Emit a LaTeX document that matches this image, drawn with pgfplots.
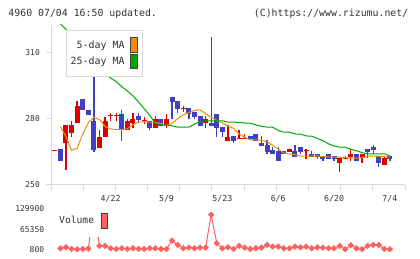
\documentclass[border=0pt]{standalone}
\usepackage{pgfplots}
\pgfplotsset{compat=1.18}
\usepackage{pgfplotstable}
\usepackage{fontspec}
\setmainfont{DejaVu Sans Mono}
\definecolor{cred}{RGB}{221,0,0}
\definecolor{cblue}{RGB}{64,64,192}
\definecolor{corange}{RGB}{245,140,0}
\definecolor{cgreen}{RGB}{0,168,0}
\definecolor{cvol}{RGB}{255,96,96}
\definecolor{caxis}{RGB}{216,216,216}
\definecolor{ctext}{RGB}{51,51,51}

% red (up) candle bodies: index open close
\pgfplotstableread{
i o c
0 265.1 265.55
2 268.8 277.1
3 273.65 277.1
4 277.9 285.8
8 266.8 271.4
9 271.8 279.0
10 281.0 281.45
11 281.0 281.45
13 274.6 279.1
14 278.2 279.7
16 278.75 279.2
18 275.9 279.9
20 276.7 279.9
23 284.5 284.95
27 277.9 279.9
31 270.0 271.4
33 270.9 271.35
34 270.9 271.35
42 265.0 266.2
45 265.1 265.55
51 260.0 262.3
52 261.8 262.25
53 262.7 263.95
55 262.0 263.95
59 258.95 262.3
}\upbodies

% blue (down) candle bodies: index open close
\pgfplotstableread{
i o c
1 266.2 260.9
5 289.0 283.7
6 283.95 281.8
7 279.1 265.8
12 282.1 274.6
15 281.2 279.4
17 278.95 275.9
19 279.9 276.7
21 290.0 287.7
22 288.0 284.4
24 284.8 282.0
25 282.9 280.9
26 281.2 276.8
28 277.9 276.8
29 282.1 275.9
30 276.1 273.8
32 272.1 270.0
35 272.1 270.6
36 273.05 270.0
37 269.1 267.7
38 268.0 265.0
39 265.5 263.8
40 265.3 260.9
41 265.3 263.8
43 265.3 262.7
44 267.0 264.7
46 263.95 262.7
47 263.95 262.4
48 263.1 261.7
49 263.95 261.7
50 263.1 261.7
54 263.95 260.9
56 266.2 264.7
57 267.3 265.8
58 263.1 260.0
60 263.1 261.7
}\downbodies

% wicks of red candles: low and high of each day, days separated by nan
\pgfplotstableread{
x y
2 256.7
2 277.1
2 nan
3 271.8
3 278.7
3 nan
4 277.9
4 288.0
4 nan
8 266.8
8 274.9
8 nan
9 271.8
9 280.5
9 nan
10 278.7
10 282.7
10 nan
11 278.7
11 282.4
11 nan
13 274.6
13 279.7
13 nan
14 275.6
14 282.4
14 nan
16 277.6
16 280.9
16 nan
18 275.9
18 281.2
18 nan
20 275.6
20 282.1
20 nan
23 283.2
23 285.9
23 nan
27 275.9
27 281.2
27 nan
31 270.0
31 277.1
31 nan
33 270.9
33 274.9
33 nan
34 270.9
34 273.0
34 nan
45 261.7
45 266.2
45 nan
51 255.9
51 262.3
51 nan
52 261.8
52 263.05
52 nan
53 260.9
53 266.1
53 nan
55 260.0
55 263.95
55 nan
59 258.95
59 263.05
}\upwicks

% wicks of blue candles
\pgfplotstableread{
x y
7 265.0
7 312.0
7 nan
12 270.0
12 283.95
12 nan
15 277.9
15 282.4
15 nan
17 274.6
17 278.95
17 nan
21 279.7
21 290.0
21 nan
22 282.7
22 288.0
22 nan
24 279.7
24 284.8
24 nan
25 279.7
25 282.9
25 nan
28 276.8
28 317.0
28 nan
29 271.8
29 282.1
29 nan
30 271.8
30 276.1
30 nan
32 268.8
32 272.1
32 nan
37 267.7
37 272.1
37 nan
38 263.8
38 270.3
38 nan
39 263.8
39 267.3
39 nan
40 260.9
40 267.0
40 nan
43 262.7
43 267.9
43 nan
44 263.9
44 267.0
44 nan
46 262.7
46 265.3
46 nan
47 261.7
47 263.95
47 nan
48 260.9
48 263.1
48 nan
50 260.9
50 263.1
50 nan
56 262.0
56 266.2
56 nan
57 263.95
57 268.0
57 nan
58 257.9
58 263.1
58 nan
60 260.9
60 263.1
}\downwicks

\pgfplotstableread{
i ma
1 276.4
2 271.8
3 265.5
4 266.5
5 273.0
6 278.0
7 280.6
8 279.5
9 276.4
10 275.3
11 275.0
12 274.9
13 275.4
14 277.1
15 278.5
16 278.5
17 278.4
18 278.2
19 277.8
20 276.9
21 277.8
22 280.0
23 281.7
24 282.7
25 283.7
26 284.0
27 282.3
28 280.5
29 279.3
30 278.0
31 276.5
32 275.6
33 273.0
34 271.5
35 270.3
36 270.3
37 270.1
38 269.5
39 267.8
40 266.2
41 264.4
42 263.9
43 263.6
44 263.0
45 262.9
46 263.0
47 263.0
48 262.7
49 262.6
50 262.5
51 262.5
52 262.2
53 262.1
54 262.0
55 262.2
56 262.9
57 262.9
58 262.9
59 262.7
60 262.5
}\maFive

\pgfplotstableread{
i ma
1 323.0
2 320.5
3 317.5
4 315.0
5 312.0
6 309.5
7 306.5
8 303.5
9 301.0
10 298.4
11 296.8
12 294.5
13 292.5
14 290.3
15 287.5
16 284.5
17 281.5
18 277.8
19 277.1
20 277.1
21 276.7
22 276.1
23 276.1
24 276.1
25 277.5
26 278.6
27 279.0
28 279.0
29 279.0
30 279.0
31 278.4
32 278.4
33 278.2
34 278.0
35 277.9
36 277.1
37 276.5
38 276.1
39 276.1
40 274.6
41 273.8
42 273.8
43 273.0
44 272.9
45 272.1
46 272.0
47 271.0
48 270.0
49 268.5
50 267.5
51 267.0
52 267.0
53 266.0
54 265.4
55 264.5
56 264.0
57 264.0
58 264.0
59 264.0
60 263.0
}\maTwentyFive

\pgfplotstableread{
i v
1 4000
2 7250
3 1900
4 800
5 1900
6 3000
7 129900
8 11600
9 11600
10 4000
11 1900
12 4000
13 1900
14 4000
15 1900
16 1900
17 4000
18 4000
19 1900
20 1900
21 28800
22 14800
23 4000
24 6200
25 4000
26 6200
27 6200
28 111600
29 20200
30 4000
31 7250
32 1900
33 11600
34 6200
35 1900
36 4000
37 6200
38 14800
39 9400
40 9400
41 4000
42 4000
43 9400
44 7250
45 9400
46 4000
47 7250
48 6200
49 4000
50 4000
51 11600
52 800
53 13700
54 4000
55 800
56 11600
57 14800
58 14800
59 1900
60 800
}\volume

\begin{document}
\begin{tikzpicture}
\path[use as bounding box] (0bp,0bp) rectangle (420bp,259bp);
\node[anchor=west, inner sep=0pt, text=ctext, font=\fontsize{9.9}{11}\selectfont] at (8.3bp,245.7bp) {4960 07/04 16:50 updated.};
\node[anchor=east, inner sep=0pt, text=ctext, font=\fontsize{9.9}{11}\selectfont] at (408.5bp,245.7bp) {(C)https://www.rizumu.net/};

\begin{axis}[
  at={(51bp,74.4bp)}, anchor=south west,
  scale only axis, width=354bp, height=159.6bp,
  xmin=-0.68, xmax=62.7, ymin=250, ymax=322.5,
  axis x line*=bottom, axis y line*=left,
  axis line style={draw=caxis, line width=1bp, -},
  every tick/.style={draw=caxis, line width=1bp},
  tick align=outside, major tick length=5bp,
  xtick={-0.68,5.082,10.844,16.606,22.368,28.13,33.892,39.654,45.416,51.178,56.94,62.70},
  xticklabels={},
  extra x ticks={10,20,30,40,50,60},
  extra x tick labels={4/22,5/9,5/23,6/6,6/20,7/4},
  extra x tick style={major tick length=0pt, xticklabel style={anchor=base, inner sep=0pt, yshift=-16.5bp, font=\fontsize{8.3}{9}\selectfont, text=ctext}},
  ytick={250,280,310}, yticklabels={250,280,310},
  yticklabel style={anchor=east, inner sep=0pt, xshift=-6bp, font=\fontsize{8}{9}\selectfont, text=ctext},
  scaled ticks=false,
  unbounded coords=jump,
  legend cell align=right,
  legend plot pos=right,
  legend style={at={(axis description cs:0.0415,0.9687)}, anchor=north west,
    draw=caxis, line width=1bp, fill=white,
    font=\fontsize{10}{12}\selectfont, text=ctext,
    nodes={inner sep=0pt},
    inner xsep=4.5bp, inner ysep=6.8bp, row sep=1.3bp,
    /tikz/every odd column/.append style={column sep=5.5bp}},
]
% wicks (low to high)
\addplot[draw=cred, line width=1.3bp, mark=none, forget plot] table[x=x, y=y] {\upwicks};
\addplot[draw=cblue, line width=1.3bp, mark=none, forget plot] table[x=x, y=y] {\downwicks};
% bodies (open to close)
\addplot[color=cred, draw=cred, line width=5bp, mark=none, forget plot,
  quiver={u=0, v=\thisrow{c}-\thisrow{o}}]
  table[x=i, y=o] {\upbodies};
\addplot[color=cblue, draw=cblue, line width=5bp, mark=none, forget plot,
  quiver={u=0, v=\thisrow{c}-\thisrow{o}}]
  table[x=i, y=o] {\downbodies};
% moving averages
\addplot[corange, line width=1bp, mark=none,
  legend image code/.code={\draw[draw=black!75, fill=corange, line width=1bp] (0bp,-7.2bp) rectangle (7.3bp,7.2bp);}]
  table[x=i, y=ma] {\maFive};
\addlegendentry{5-day MA}
\addplot[cgreen, line width=1bp, mark=none,
  legend image code/.code={\draw[draw=black!75, fill=cgreen, line width=1bp] (0bp,-7.2bp) rectangle (7.3bp,7.2bp);}]
  table[x=i, y=ma] {\maTwentyFive};
\addlegendentry{25-day MA}
\end{axis}

\begin{axis}[
  at={(51bp,6bp)}, anchor=south west,
  scale only axis, width=354bp, height=48bp,
  xmin=-0.68, xmax=62.7, ymin=-11050, ymax=142700,
  hide x axis, axis y line*=left,
  y axis line style={draw=none},
  major tick length=0pt,
  ytick={800,65350,129900}, yticklabels={800,65350,129900},
  yticklabel style={anchor=east, inner sep=0pt, xshift=-6.7bp, font=\fontsize{8}{9}\selectfont, text=ctext},
  scaled ticks=false,
  legend plot pos=right,
  legend style={at={(axis description cs:0.0141,1)}, anchor=north west,
    draw=none, fill=white,
    font=\fontsize{9.7}{11}\selectfont, text=ctext,
    nodes={inner sep=0pt},
    inner xsep=3bp, inner ysep=7.8bp,
    /tikz/every odd column/.append style={column sep=7.2bp}},
]
\addplot[cvol, line width=1bp, mark=square*, mark size=2bp,
  mark options={rotate=45, fill=cvol, draw=cvol, line width=0.5bp},
  legend image code/.code={\draw[draw=black!75, fill=cvol, line width=1bp] (0bp,-7.5bp) rectangle (5.6bp,7.5bp);}]
  table[x=i, y=v] {\volume};
\addlegendentry{Volume}
\end{axis}
\end{tikzpicture}
\end{document}
